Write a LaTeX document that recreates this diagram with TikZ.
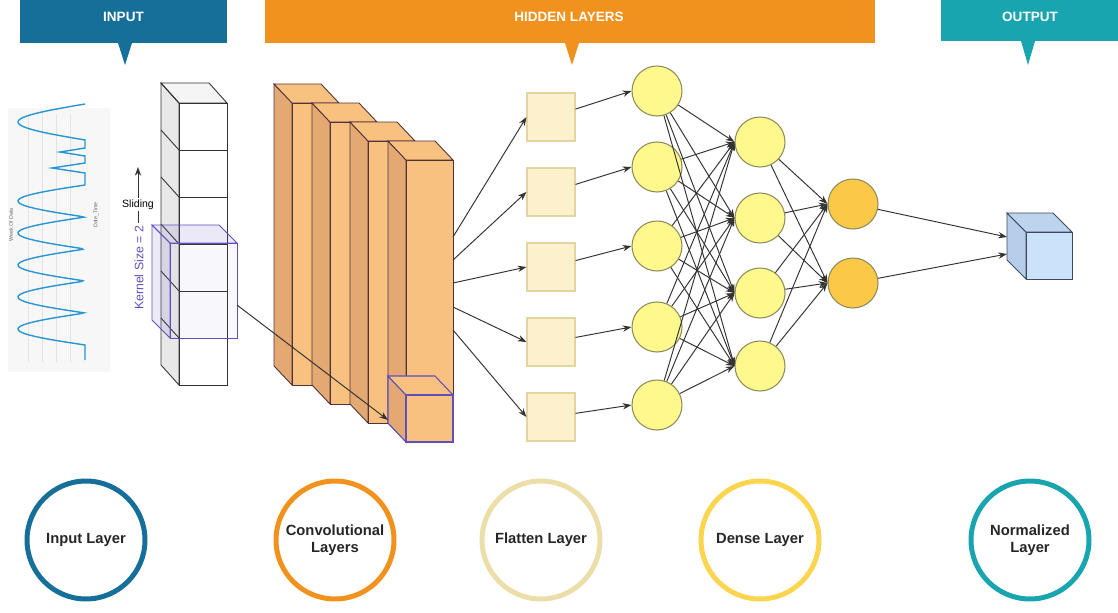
\documentclass[tikz,border=0pt]{standalone}
\usepackage{fontspec}
\setmainfont{Liberation Sans}
\usetikzlibrary{positioning}
\usetikzlibrary{arrows.meta}

\definecolor{inblue}{RGB}{22,111,152}
\definecolor{hidorange}{RGB}{242,146,30}
\definecolor{outteal}{RGB}{24,165,176}
\definecolor{flatring}{RGB}{236,222,168}
\definecolor{densering}{RGB}{250,214,80}
\definecolor{convfront}{RGB}{249,193,128}
\definecolor{convside}{RGB}{228,169,114}
\definecolor{convline}{RGB}{80,50,60}
\definecolor{kernelcol}{RGB}{95,80,190}
\definecolor{flatfill}{RGB}{253,241,205}
\definecolor{flatline}{RGB}{228,212,160}
\definecolor{neuronfill}{RGB}{255,248,140}
\definecolor{neuronline}{RGB}{140,140,90}
\definecolor{outfill}{RGB}{251,200,72}
\definecolor{cubefront}{RGB}{204,226,250}
\definecolor{cubeside}{RGB}{183,206,234}
\definecolor{cubeline}{RGB}{60,74,90}
\definecolor{seriesblue}{RGB}{40,150,210}

\tikzset{
  banner/.style={font=\fontsize{7.7}{9}\selectfont\bfseries, text=white},
  conn/.style={draw=black!80, line width=0.55pt, -{Stealth[length=5pt,width=3.6pt]}},
  convface/.style={draw=convline, line width=0.5pt},
  flatbox/.style={draw=flatline, fill=flatfill, line width=0.6pt, minimum size=0.96cm, inner sep=0pt},
  neuron/.style={circle, draw=neuronline, fill=neuronfill, line width=0.6pt, minimum size=1cm, inner sep=0pt},
  outneuron/.style={neuron, fill=outfill},
  layerring/.style={circle, line width=0.1cm, minimum size=2.36cm, align=center,
    font=\fontsize{8.4}{10}\selectfont\bfseries, text=black!85},
  charttext/.style={font=\fontsize{3}{3.5}\selectfont, text=black!60, inner sep=0pt},
}

\begin{document}
\begin{tikzpicture}[x=0.02cm, y=-0.02cm]
\useasboundingbox (0,0) rectangle (1118,612);

% banners
\fill[inblue] (20,0) rectangle (227,43);
\fill[inblue] (118,43) -- (125,65) -- (132,43) -- cycle;
\node[banner] (tin) at (123.5,17) {INPUT};
\fill[hidorange] (265,0) rectangle (875,43);
\fill[hidorange] (565,43) -- (572,65) -- (579,43) -- cycle;
\node[banner] (thid) at (569,17) {HIDDEN LAYERS};
\fill[outteal] (941,0) rectangle (1118,41);
\fill[outteal] (1021,41) -- (1028,65) -- (1035,41) -- cycle;
\node[banner] (tout) at (1030,17) {OUTPUT};

% input series
\fill[gray!6] (8,108) rectangle (110,372);
\foreach \gx in {28,42,56,70}
  \draw[gray!22, line width=0.3pt] (\gx,114) -- (\gx,362);
\draw[seriesblue, line width=0.8pt] plot[domain=104:140, samples=60] ({85-67*abs(sin(5*(\x-104)))}, \x)
  -- (85,148) -- (60,152) -- (85,156) -- (85,163) -- (52,168) -- (85,173) -- (85,185);
\draw[seriesblue, line width=0.8pt] plot[domain=185:345, samples=200] ({85-67*abs(sin(5.625*(\x-185)))}, \x)
  -- (85,360);
\node[charttext, rotate=90] (wk) at (11,225) {Week Of Data};
\node[charttext, rotate=90] (dt) at (96,215) {Date\_Time};

% input column
\filldraw[convface, draw=black!80, fill=gray!18] (179,103) -- (161,83) -- (161,365) -- (179,385) -- cycle;
\filldraw[convface, draw=black!80, fill=gray!8] (179,103) -- (161,83) -- (209,83) -- (227,103) -- cycle;
\foreach \k in {0,...,5} {
  \pgfmathsetmacro\cy{103+47*\k}
  \filldraw[convface, draw=black!80, fill=white] (179,\cy) rectangle ++(48,47);
  \draw[black!80, line width=0.5pt] (179,\cy) -- ++(-18,-20);
}

% kernel window
\filldraw[draw=kernelcol, line width=0.5pt, fill=kernelcol, fill opacity=0.12]
  (170,243) -- (152,225) -- (152,320) -- (170,338) -- cycle;
\filldraw[draw=kernelcol, line width=0.5pt, fill=kernelcol, fill opacity=0.12]
  (170,243) -- (152,225) -- (219,225) -- (237,243) -- cycle;
\filldraw[draw=kernelcol, line width=0.5pt, fill=kernelcol, fill opacity=0.04]
  (170,243) rectangle (237,338);
\node[text=kernelcol, font=\fontsize{7}{8}\selectfont, rotate=90] (ksize) at (139,268) {Kernel Size = 2};
\coordinate (slb) at (138,223);
\coordinate (slt) at (138,167);
\draw[conn] (slb) -- node[pos=0.33, fill=white, inner sep=1pt, font=\fontsize{6}{7}\selectfont] (slide) {Sliding} (slt);

% convolution slabs
\foreach \i in {0,...,3} {
  \pgfmathsetmacro\fx{292+38*\i}
  \pgfmathsetmacro\fy{103+19*\i}
  \filldraw[convface, fill=convside] (\fx,\fy) -- ++(-18,-19) -- ++(0,282) -- ++(18,19) -- cycle;
  \filldraw[convface, fill=convfront] (\fx,\fy) -- ++(-18,-19) -- ++(47,0) -- ++(18,19) -- cycle;
  \filldraw[convface, fill=convfront] (\fx,\fy) rectangle ++(47,282);
}
\filldraw[draw=kernelcol, line width=0.6pt, fill=convside] (406,395) -- (388,376) -- (388,423) -- (406,442) -- cycle;
\filldraw[draw=kernelcol, line width=0.6pt, fill=convfront] (406,395) -- (388,376) -- (435,376) -- (453,395) -- cycle;
\filldraw[draw=kernelcol, line width=0.6pt, fill=convfront] (406,395) rectangle (453,442);
\coordinate (kout) at (237,305);
\coordinate (cin) at (388,420);
\draw[conn] (kout) -- (cin);

% flatten
\foreach \k/\fy in {1/117,2/192,3/267,4/342,5/417}
  \node[flatbox] (f\k) at (551,\fy) {};
\foreach \k/\cy in {1/237,2/260,3/283,4/307,5/330} {
  \coordinate (c\k) at (453,\cy);
  \draw[conn] (c\k) -- (f\k.west);
}

% dense
\foreach \k/\dy in {1/91,2/167,3/246,4/327,5/405}
  \node[neuron] (d\k) at (657,\dy) {};
\foreach \k/\dy in {1/142,2/218,3/293,4/366}
  \node[neuron] (e\k) at (760,\dy) {};
\node[outneuron] (o1) at (853,204) {};
\node[outneuron] (o2) at (853,283) {};
\foreach \k in {1,...,5}
  \draw[conn] (f\k) -- (d\k.west);
\foreach \i in {1,...,5}
  \foreach \j in {1,...,4}
    \draw[conn] (d\i) -- (e\j.west);
\foreach \j in {1,...,4}
  \foreach \m in {1,2}
    \draw[conn] (e\j) -- (o\m.west);

% output cube
\filldraw[draw=cubeline, line width=0.5pt, fill=cubeside] (1026,232) -- (1007,213) -- (1007,260) -- (1026,279) -- cycle;
\filldraw[draw=cubeline, line width=0.5pt, fill=cubeside!70!cubefront] (1026,232) -- (1007,213) -- (1053,213) -- (1072,232) -- cycle;
\filldraw[draw=cubeline, line width=0.5pt, fill=cubefront] (1026,232) rectangle (1072,279);
\coordinate (q1) at (1007,237);
\coordinate (q2) at (1007,254);
\draw[conn] (o1) -- (q1);
\draw[conn] (o2) -- (q2);

% layer legend
\node[layerring, draw=inblue] (lin) at (86,540) {Input Layer};
\node[layerring, draw=hidorange] (lconv) at (335,540) {Convolutional\\Layers};
\node[layerring, draw=flatring] (lflat) at (541,540) {Flatten Layer};
\node[layerring, draw=densering] (ldense) at (760,540) {Dense Layer};
\node[layerring, draw=outteal] (lnorm) at (1030,540) {Normalized\\Layer};
\end{tikzpicture}
\end{document}
